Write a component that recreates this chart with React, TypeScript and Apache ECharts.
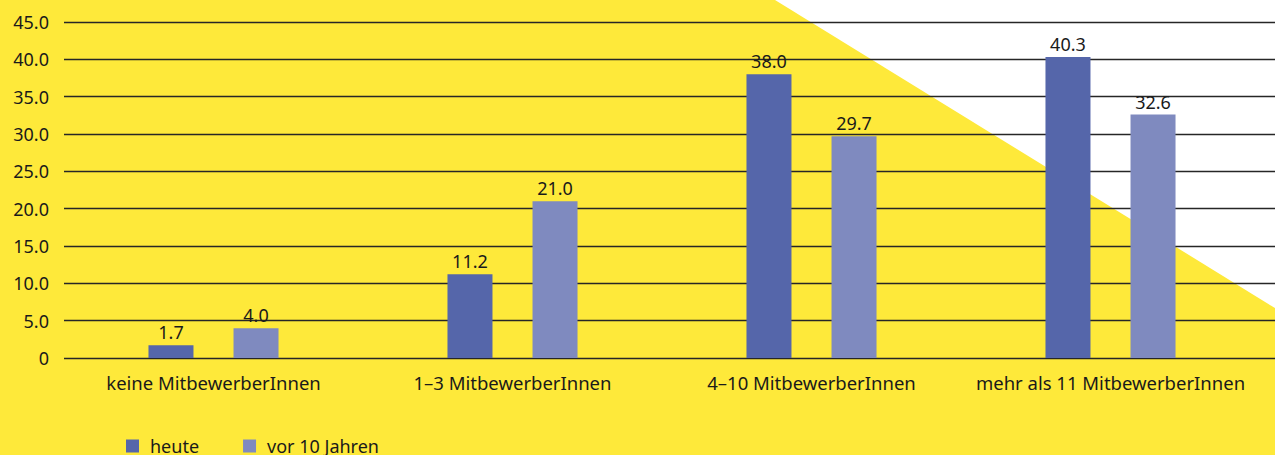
import React, { useEffect, useRef } from "react";
import * as echarts from "echarts";

const categories = [
  "keine MitbewerberInnen",
  "1–3 MitbewerberInnen",
  "4–10 MitbewerberInnen",
  "mehr als 11 MitbewerberInnen",
];
const heute = [1.7, 11.2, 38.0, 40.3];
const vor10Jahren = [4.0, 21.0, 29.7, 32.6];
const yMin = 0;
const yMax = 45;
const yStep = 5;

const FONT = "'Noto Sans', sans-serif";
const TEXT = "#1a1a1a";

export default function App() {
  const ref = useRef<HTMLDivElement>(null);
  useEffect(() => {
    if (!ref.current) return;
    const chart = echarts.init(ref.current, undefined, { renderer: "svg" });
    const labelStyle = {
      show: true,
      position: "top",
      distance: 4,
      color: TEXT,
      fontSize: 18,
      fontFamily: FONT,
      formatter: (p: any) => Number(p.value).toFixed(1),
    };
    chart.setOption({
      animation: false,
      backgroundColor: "transparent",
      textStyle: { fontFamily: FONT },
      graphic: [
        {
          type: "polygon",
          z: -100,
          silent: true,
          shape: { points: [[775, 0], [1275, 0], [1275, 308]] },
          style: { fill: "#ffffff" },
        },
      ],
      grid: [
        { left: 64, right: 0, top: 22, bottom: 97 },
        { left: 64, right: 15, top: 22, bottom: 97 },
      ],
      xAxis: [
        {
          type: "category",
          gridIndex: 0,
          data: categories,
          show: false,
        },
        {
          type: "category",
          gridIndex: 1,
          data: categories,
          axisLine: { show: false },
          axisTick: { show: false },
          axisLabel: {
            color: TEXT,
            fontSize: 18.5,
            fontFamily: FONT,
            margin: 15,
            interval: 0,
          },
        },
      ],
      yAxis: [
        {
          type: "value",
          gridIndex: 0,
          min: yMin,
          max: yMax,
          interval: yStep,
          axisLine: { show: false },
          axisTick: { show: false },
          axisLabel: {
            color: TEXT,
            fontSize: 18,
            fontFamily: FONT,
            margin: 15,
            formatter: (v: number) => (v === 0 ? "0" : v.toFixed(1)),
          },
          splitLine: { show: true, lineStyle: { color: "#262626", width: 1.3 } },
        },
        {
          type: "value",
          gridIndex: 1,
          min: yMin,
          max: yMax,
          interval: yStep,
          show: false,
          splitLine: { show: false },
        },
      ],
      legend: {
        left: 126,
        top: 437,
        padding: 0,
        itemWidth: 13,
        itemHeight: 13,
        itemGap: 44,
        icon: "rect",
        textStyle: {
          color: TEXT,
          fontSize: 18,
          fontFamily: FONT,
          lineHeight: 14,
          padding: [0, 0, 0, 6],
        },
        data: ["heute", "vor 10 Jahren"],
      },
      series: [
        {
          name: "heute",
          type: "bar",
          xAxisIndex: 1,
          yAxisIndex: 1,
          data: heute,
          barWidth: 45,
          barGap: "89%",
          itemStyle: { color: "#5566aa" },
          label: labelStyle,
        },
        {
          name: "vor 10 Jahren",
          type: "bar",
          xAxisIndex: 1,
          yAxisIndex: 1,
          data: vor10Jahren,
          barWidth: 45,
          barGap: "89%",
          itemStyle: { color: "#7f8abf" },
          label: labelStyle,
        },
      ],
    });
    return () => chart.dispose();
  }, []);
  return (
    <div
      ref={ref}
      style={{
        position: "absolute",
        left: 0,
        top: 0,
        width: 1275,
        height: 455,
        background: "#fee93a",
      }}
    />
  );
}
